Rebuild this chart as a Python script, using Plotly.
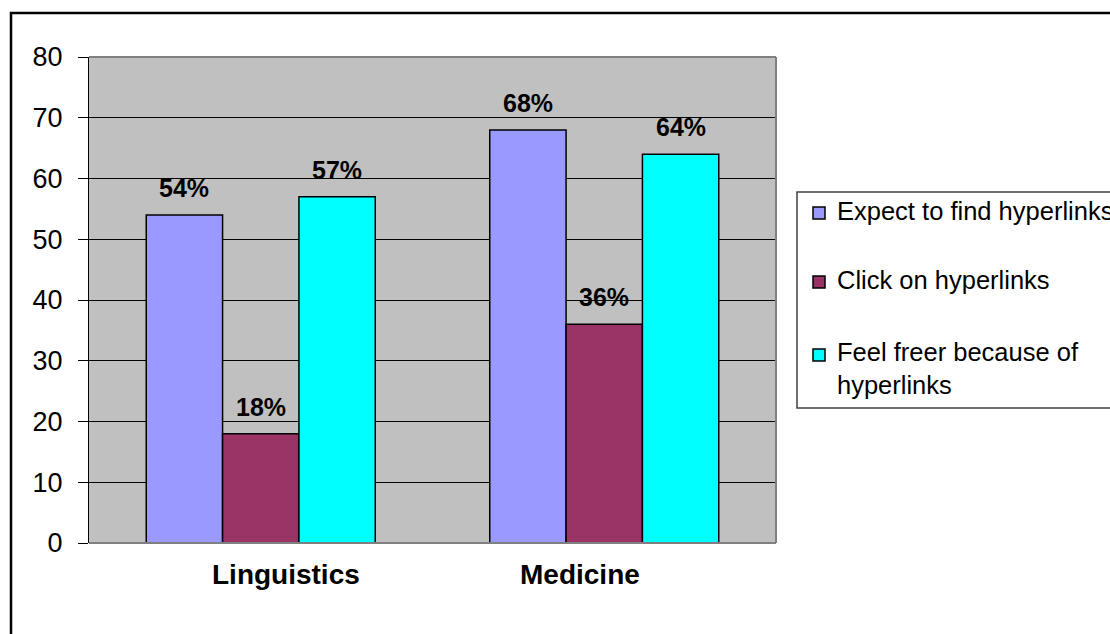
import plotly.graph_objects as go

# ---- data ----
categories = ["Linguistics", "Medicine"]
series_names = ["Expect to find hyperlinks", "Click on hyperlinks", "Feel freer because of hyperlinks"]
legend_labels = ["Expect to find hyperlinks", "Click on hyperlinks", "Feel freer because of<br>hyperlinks"]
expect_vals = [54, 68]
click_vals = [18, 36]
freer_vals = [57, 64]
series_values = [expect_vals, click_vals, freer_vals]
colors = ["#9999FF", "#993366", "#00FFFF"]
y_ticks = [0, 10, 20, 30, 40, 50, 60, 70, 80]

# ---- layout geometry (pixels) ----
W, H = 1110, 634
L, R, T, B = 89, 776, 57, 543
FONT = "Arial, Liberation Sans, sans-serif"
BARGAP = 1 / 3


def px(x):
    return (x - L) / (R - L)


def py(y):
    return (B - y) / (B - T)


fig = go.Figure()
for name, vals, col in zip(series_names, series_values, colors):
    fig.add_bar(
        x=categories, y=vals, name=name,
        marker=dict(color=col, line=dict(color="black", width=1.5)),
        showlegend=False,
    )

annotations = []
n = len(series_values)
bw = (1 - BARGAP) / n
for si, vals in enumerate(series_values):
    for ci, v in enumerate(vals):
        annotations.append(dict(
            x=ci + (si - (n - 1) / 2) * bw, y=v, xref="x", yref="y",
            text=f"<b>{v}%</b>", showarrow=False, yanchor="bottom",
            yshift=11, font=dict(size=25, color="black", family=FONT),
        ))

# category labels (Excel places them slightly off-centre)
xshifts = [25, -24]
for ci, cat in enumerate(categories):
    annotations.append(dict(
        x=ci, y=0, xref="x", yref="y", text=f"<b>{cat}</b>",
        showarrow=False, yanchor="top", yshift=-14, xshift=xshifts[ci],
        font=dict(size=28, color="black", family=FONT),
    ))

shapes = []
# outer chart border (extends past the image on right/bottom)
shapes.append(dict(type="rect", xref="paper", yref="paper",
                   x0=px(11), x1=px(1300), y0=py(13), y1=py(900),
                   line=dict(color="black", width=2.5), layer="above"))
# plot-area border (top, right, bottom in gray)
for (x0, y0, x1, y1) in [(0, 1, 1, 1), (1, 1, 1, 0), (0, 0, 1, 0)]:
    shapes.append(dict(type="line", xref="paper", yref="paper",
                       x0=x0, y0=y0, x1=x1, y1=y1,
                       line=dict(color="#808080", width=2), layer="above"))

# legend box
shapes.append(dict(type="rect", xref="paper", yref="paper",
                   x0=px(797), x1=px(1300), y0=py(192), y1=py(408),
                   line=dict(color="#404040", width=1.5), layer="above"))
sq_tops = [207, 276, 349]
text_mid = [211, 280, 368.5]
for col, lab, st, tm in zip(colors, legend_labels, sq_tops, text_mid):
    shapes.append(dict(type="rect", xref="paper", yref="paper",
                       x0=px(813), x1=px(825), y0=py(st), y1=py(st + 12),
                       fillcolor=col, line=dict(color="black", width=1.5),
                       layer="above"))
    annotations.append(dict(
        x=px(835), y=py(tm), xref="paper", yref="paper", text=lab,
        showarrow=False, xanchor="left", yanchor="middle", align="left",
        font=dict(size=25.5, color="black", family=FONT),
    ))

fig.update_layout(
    width=W, height=H,
    margin=dict(l=L, r=W - R, t=T, b=H - B, autoexpand=False),
    paper_bgcolor="white", plot_bgcolor="#C0C0C0",
    barmode="group", bargap=BARGAP, bargroupgap=0,
    font=dict(family=FONT, color="black"),
    annotations=annotations, shapes=shapes, showlegend=False,
)
fig.update_xaxes(showticklabels=False, ticks="", showgrid=False,
                 zeroline=False, showline=False)
fig.update_yaxes(range=[0, 80], tickvals=y_ticks, ticks="outside", ticklen=10,
                 tickcolor="black", tickwidth=1, showgrid=True, gridcolor="black",
                 gridwidth=1, zeroline=False, showline=True, linecolor="black",
                 linewidth=1, ticklabelstandoff=10,
                 tickfont=dict(size=27, family=FONT, color="black"))

fig.write_html("out.html", config={"displayModeBar": False},
               post_script="document.body.style.margin='0';")
